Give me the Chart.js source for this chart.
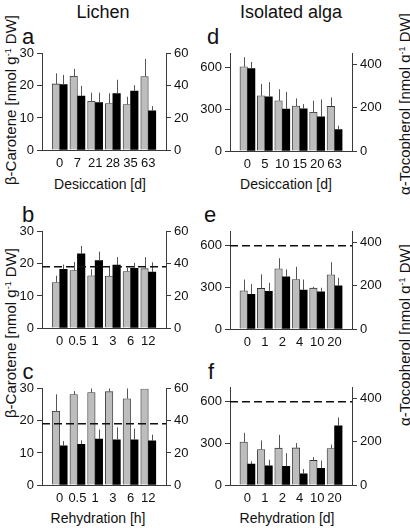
<!DOCTYPE html>
<html>
<head>
<meta charset="utf-8">
<script src="https://cdn.jsdelivr.net/npm/chart.js@4.4.0/dist/chart.umd.min.js"></script>
<style>
body { margin:0; background:#fff; width:410px; height:528px; position:relative; overflow:hidden;
       font-family:"Liberation Sans Narrow","Liberation Sans",Arial,sans-serif; color:#111; }
canvas { position:absolute; }
.t { position:absolute; white-space:nowrap; line-height:1; transform:translate(-50%,-50%); }
.title { font-family:"Liberation Sans",Arial,sans-serif; font-size:18px; }
.let { font-size:22px; }
.xt { font-size:14px; }
.yt { font-size:15px; transform:translate(-50%,-50%) rotate(-90deg); }
sup { font-size:9px; vertical-align:5px; line-height:0; }
</style>
</head>
<body>
<div class="t title" style="left:103px;top:12px">Lichen</div>
<div class="t title" style="left:291px;top:12px">Isolated alga</div>

<div class="t let" style="left:28px;top:37px">a</div>
<div class="t let" style="left:28px;top:215px">b</div>
<div class="t let" style="left:28px;top:372px">c</div>
<div class="t let" style="left:213px;top:37px">d</div>
<div class="t let" style="left:210px;top:215px">e</div>
<div class="t let" style="left:211px;top:372px">f</div>

<div class="t xt" style="left:100px;top:184px">Desiccation [d]</div>
<div class="t xt" style="left:286px;top:184px">Desiccation [d]</div>
<div class="t xt" style="left:98px;top:518px">Rehydration [h]</div>
<div class="t xt" style="left:287px;top:518px">Rehydration [d]</div>

<div class="t yt" style="left:10px;top:100px">β-Carotene [nmol g<sup>-1</sup> DW]</div>
<div class="t yt" style="left:10px;top:333px">β-Carotene [nmol g<sup>-1</sup> DW]</div>
<div class="t yt" style="left:404px;top:104px">α-Tocopherol [nmol g<sup>-1</sup> DW]</div>
<div class="t yt" style="left:404px;top:335px">α-Tocopherol [nmol g<sup>-1</sup> DW]</div>

<canvas id="pa" width="204" height="137" style="left:2px;top:43px"></canvas>
<canvas id="pb" width="204" height="137" style="left:2px;top:221px"></canvas>
<canvas id="pc" width="204" height="137" style="left:2px;top:378px"></canvas>
<canvas id="pd" width="202" height="138" style="left:190px;top:43px"></canvas>
<canvas id="pe" width="202" height="138" style="left:190px;top:221px"></canvas>
<canvas id="pf" width="202" height="138" style="left:190px;top:377px"></canvas>

<script>
// lichen, desiccation (a)
const aCats = ['0', '7', '21', '28', '35', '63'];
const aGray = [20.6, 23.0, 15.2, 14.5, 14.2, 22.9];
const aGrayErr = [23.9, 25.3, 17.9, 17.7, 16.6, 28.4];
const aBlack = [40.8, 33.6, 29.6, 35.2, 36.8, 24.4];
const aBlackErr = [46.8, 40.0, 35.8, 43.8, 40.4, 27.4];

// lichen, rehydration (b, c)
const bcCats = ['0', '0.5', '1', '3', '6', '12'];
const bGray = [14.2, 17.9, 16.3, 16.2, 17.6, 18.5];
const bGrayErr = [16.3, 20.6, 18.3, 19.0, 18.8, 22.1];
const bBlack = [36.6, 46.2, 42.0, 39.2, 37.2, 34.8];
const bBlackErr = [39.6, 51.2, 47.6, 44.2, 40.6, 41.0];
const bDash = 19.1;

const cGray = [23.0, 28.2, 28.8, 29.1, 26.9, 30.0];
const cGrayErr = [28.3, 29.3, 30.1, 30.1, 30.1, 30.0];
const cBlack = [24.4, 25.4, 28.6, 28.2, 28.2, 27.6];
const cBlackErr = [27.4, 27.8, 34.6, 36.0, 35.2, 31.4];
const cDash = 19.1;

// isolated alga, desiccation (d)
const dCats = ['0', '5', '10', '15', '20', '63'];
const dGray = [607, 398, 362, 324, 279, 321];
const dGrayErr = [676, 483, 445, 379, 362, 386];
const dBlack = [382, 251, 194, 195, 158, 99];
const dBlackErr = [412, 319, 274, 217, 239, 117];

// isolated alga, rehydration (e, f)
const efCats = ['0', '1', '2', '4', '10', '20'];
const eGray = [275, 292, 434, 356, 294, 391];
const eGrayErr = [356, 394, 510, 448, 304, 481];
const eBlack = [161, 174, 242, 180, 172, 200];
const eBlackErr = [208, 214, 276, 229, 191, 237];
const eDash = 600;

const fGray = [309, 255, 265, 267, 177, 262];
const fGrayErr = [376, 321, 361, 302, 201, 291];
const fBlack = [97, 89, 86, 52, 77, 274];
const fBlackErr = [110, 117, 147, 74, 113, 313];
const fDash = 600;

const FONT = '"Liberation Sans Narrow", "Liberation Sans", Arial, sans-serif';
const AXIS = '#3a3a3a';

// error bars (upper only) and dashed reference line
const extras = {
  id: 'extras',
  afterDatasetsDraw(chart, args, opts) {
    const ctx = chart.ctx;
    ctx.save();
    ctx.strokeStyle = '#555';
    ctx.lineWidth = 1;
    chart.data.datasets.forEach((ds, i) => {
      const meta = chart.getDatasetMeta(i);
      const sc = chart.scales[ds.yAxisID];
      meta.data.forEach((bar, j) => {
        const e = ds.err[j];
        if (e == null || ds.data[j] == null) return;
        const y = sc.getPixelForValue(e);
        const x = Math.round(bar.x) + 0.5;
        ctx.beginPath();
        ctx.moveTo(x, bar.y);
        ctx.lineTo(x, y);
        ctx.stroke();
      });
    });
    if (opts.dash != null) {
      const y = chart.scales.yL.getPixelForValue(opts.dash);
      ctx.strokeStyle = '#111';
      ctx.lineWidth = 1.5;
      ctx.setLineDash([8, 4]);
      ctx.beginPath();
      ctx.moveTo(chart.chartArea.left, y);
      ctx.lineTo(chart.chartArea.right, y);
      ctx.stroke();
    }
    ctx.restore();
  }
};

function yAxis(pos, max, step) {
  return {
    position: pos, min: 0, max: max,
    grid: { drawOnChartArea: false, drawTicks: true, tickLength: 5, color: AXIS },
    border: { color: AXIS, width: 1 },
    ticks: { stepSize: step, includeBounds: false, padding: 3, color: '#111', font: { family: FONT, size: 13 } },
    afterFit(s) { s.width = 40; }
  };
}

function panel(id, cats, gray, grayErr, black, blackErr, lMax, lStep, rMax, rStep, dash) {
  const pad = a => [null].concat(a, [null]);
  new Chart(document.getElementById(id), {
    type: 'bar',
    data: {
      labels: [''].concat(cats, ['']),
      datasets: [
        { data: pad(gray), err: pad(grayErr), yAxisID: 'yL', backgroundColor: '#bdbdbd',
          borderColor: '#333', borderWidth: 0.8, barThickness: 7.5 },
        { data: pad(black), err: pad(blackErr), yAxisID: 'yR', backgroundColor: '#000',
          borderColor: '#000', borderWidth: 0, barThickness: 7.5 }
      ]
    },
    options: {
      responsive: false, animation: false, devicePixelRatio: 1,
      layout: { padding: { top: 10, left: 0, right: 0, bottom: 0 } },
      plugins: { legend: { display: false }, tooltip: { enabled: false }, extras: { dash: dash } },
      scales: {
        x: {
          type: 'category', offset: false,
          grid: { display: true, drawOnChartArea: false, drawTicks: false },
          border: { display: true, color: AXIS, width: 1 },
          ticks: { autoSkip: false, maxRotation: 0, padding: 6, color: '#111', font: { family: FONT, size: 13 } },
          afterFit(s) { s.height = 30; }
        },
        yL: yAxis('left', lMax, lStep),
        yR: yAxis('right', rMax, rStep)
      }
    },
    plugins: [extras]
  });
}

panel('pa', aCats, aGray, aGrayErr, aBlack, aBlackErr, 30, 10, 60, 20, null);
panel('pb', bcCats, bGray, bGrayErr, bBlack, bBlackErr, 30, 10, 60, 20, bDash);
panel('pc', bcCats, cGray, cGrayErr, cBlack, cBlackErr, 30, 10, 60, 20, cDash);
panel('pd', dCats, dGray, dGrayErr, dBlack, dBlackErr, 700, 300, 450, 200, null);
panel('pe', efCats, eGray, eGrayErr, eBlack, eBlackErr, 700, 300, 450, 200, eDash);
panel('pf', efCats, fGray, fGrayErr, fBlack, fBlackErr, 700, 300, 450, 200, fDash);
</script>
</body>
</html>
